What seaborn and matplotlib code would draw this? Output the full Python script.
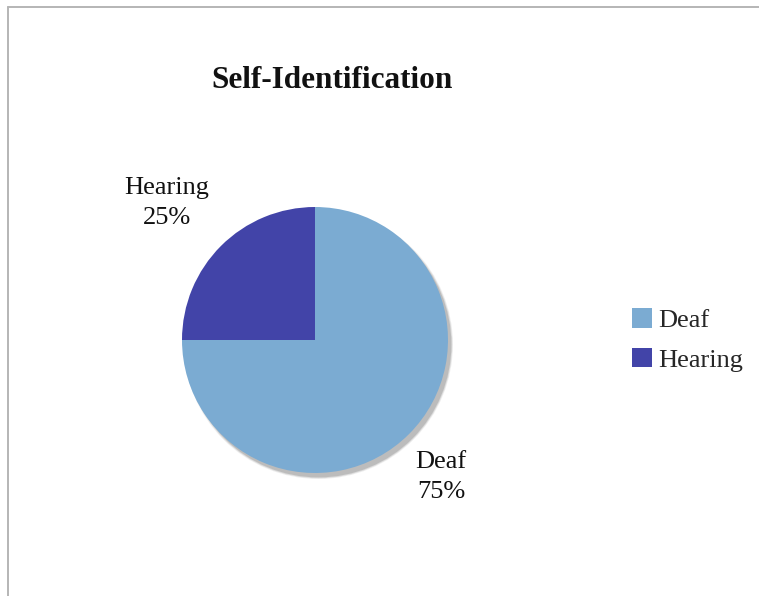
import matplotlib
matplotlib.use("Agg")
import matplotlib.pyplot as plt
from matplotlib.patches import Circle
from matplotlib.lines import Line2D
import seaborn as sns

# Survey responses: how participants self-identify
categories = ["Deaf", "Hearing"]
shares = [75, 25]
colors = ["#7BABD2", "#4244A8"]
title = "Self-Identification"

sns.set_theme(style="white")
plt.rcParams["font.family"] = ["Liberation Serif", "DejaVu Serif"]

W, H = 759, 596
fig = plt.figure(figsize=(W / 100, H / 100), dpi=100)
ax = fig.add_axes([0, 0, 1, 1])

cx, cy, r = 315, H - 340, 133

# Soft drop shadow behind the pie
for i, a in enumerate([0.12, 0.18, 0.3]):
    ax.add_patch(Circle((cx + 3.5, cy - 4.5), r + 1.5 - i * 0.8,
                        color="#7a7a7a", alpha=a, lw=0, zorder=1))

wedges, _ = ax.pie(shares, colors=colors, startangle=180, counterclock=True,
                   center=(cx, cy), radius=r, frame=True,
                   wedgeprops=dict(linewidth=0, zorder=2))
ax.set_xlim(0, W)
ax.set_ylim(0, H)
ax.set_axis_off()

# Chart frame (top and left edges)
frame_kw = dict(color="#b5b5b5", lw=1.4)
ax.add_line(Line2D([8, W], [H - 7, H - 7], **frame_kw))
ax.add_line(Line2D([8, 8], [0, H - 7], **frame_kw))

# Slice labels
label_pos = {"Deaf": (441, H - 477), "Hearing": (167, H - 203)}
for cat, val in zip(categories, shares):
    x, y = label_pos[cat]
    ax.text(x, y, f"{cat}\n{val}%", ha="center", va="center",
            fontsize=19, linespacing=1.5, color="#111111")

ax.text(332, H - 80, title, ha="center", va="center", fontsize=22.5,
        fontweight="bold", color="#111111")

fig.legend(wedges, categories, loc="center left",
           bbox_to_anchor=(632 / W, 1 - 340 / H), frameon=False,
           fontsize=19, handlelength=0.75, handleheight=0.75,
           handletextpad=0.25, labelspacing=0.6, borderpad=0,
           borderaxespad=0)

fig.savefig("out.png", dpi=100, facecolor="white")
